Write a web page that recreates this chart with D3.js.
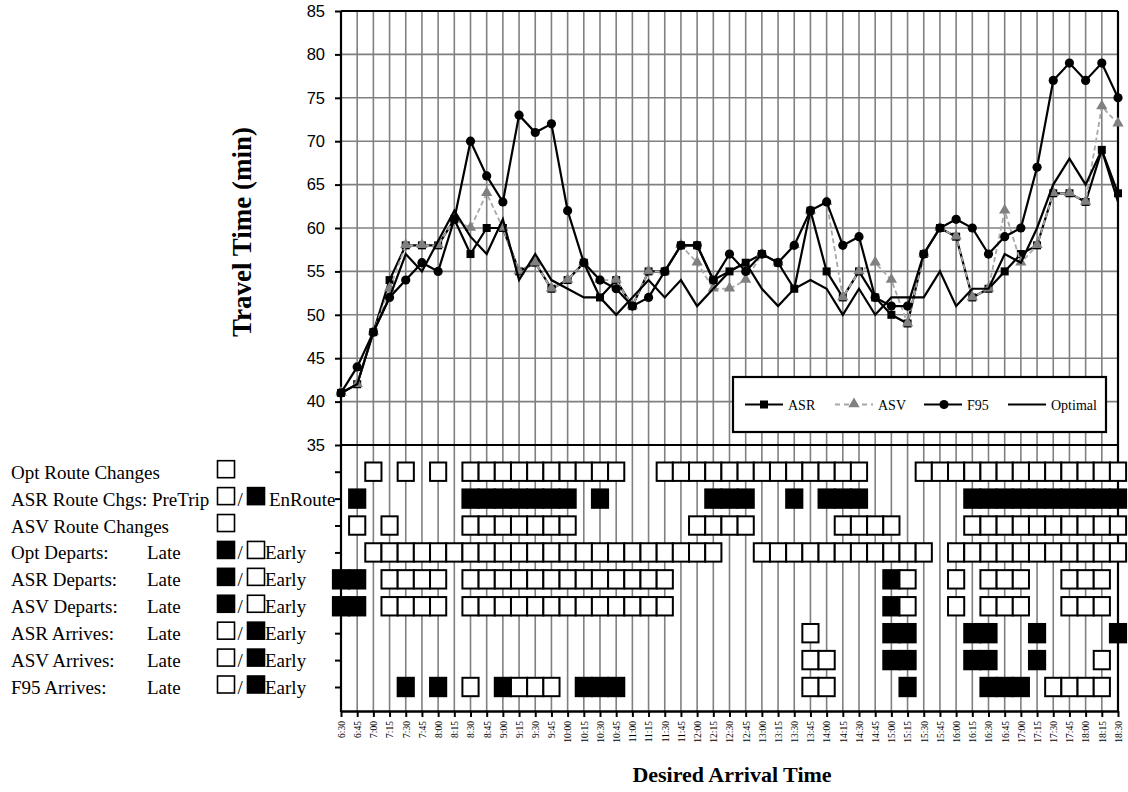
<!DOCTYPE html>
<html><head><meta charset="utf-8">
<script src="https://cdn.jsdelivr.net/npm/d3@7"></script>
<style>body{margin:0;background:#fff}</style>
</head><body>
<svg id="c" width="1128" height="792"></svg>
<script>
// ---------------- data ----------------
const times = ["6:30","6:45","7:00","7:15","7:30","7:45","8:00","8:15","8:30","8:45","9:00","9:15","9:30","9:45",
 "10:00","10:15","10:30","10:45","11:00","11:15","11:30","11:45","12:00","12:15","12:30","12:45",
 "13:00","13:15","13:30","13:45","14:00","14:15","14:30","14:45","15:00","15:15","15:30","15:45",
 "16:00","16:15","16:30","16:45","17:00","17:15","17:30","17:45","18:00","18:15","18:30"];

const asr = [41,42,48,54,58,58,58,61,57,60,60,55,56,53,54,56,52,54,51,55,55,58,58,54,55,56,
             57,56,53,62,55,52,55,52,50,49,57,60,59,52,53,55,57,58,64,64,63,69,64];
const asv = [41,42,48,53,58,58,58,61,60,64,60,55,56,53,54,56,54,54,51,55,55,58,56,53,53,54,
             57,56,58,62,63,52,55,56,54,49,57,60,59,52,53,62,56,58,64,64,63,74,72];
const f95 = [41,44,48,52,54,56,55,61,70,66,63,73,71,72,62,56,54,53,51,52,55,58,58,54,57,55,
             57,56,58,62,63,58,59,52,51,51,57,60,61,60,57,59,60,67,77,79,77,79,75];
const optimal = [41,42,48,52,57,55,58.5,62,59,57,61,54,57,54,53,52,52,50,52,54,52,54,51,53,55,56,
             53,51,53,54,53,50,53,50,52,52,52,55,51,53,53,57,56,60,65,68,65,69,63];

const yTicks = [35,40,45,50,55,60,65,70,75,80,85];

// event rows: one character per time slot ('.' none, 'W' open box, 'B' filled box)
const optRouteChanges = "..W.W.W." + "WWWWWWWWWW" + ".." + "WWWWWWWWWWWWW" + "..." + "WWWWWWWWWWWWW";
const asrRouteChanges = ".B......" + "BBBBBBB" + "." + "B" + "......" + "BBB" + ".." + "B" + "." + "BBB" + "......" + "BBBBBBBBBB";
const asvRouteChanges = ".W.W...." + "WWWWWWW" + "......." + "WWWW" + "....." + "WWWW" + "...." + "WWWWWWWWWW";
const optDeparts = ".." + "WWWWWWWWWWWWWWWWWWWWWW" + ".." + "WWWWWWWWWWW" + "." + "WWWWWWWWWWW";
const asrDeparts = "BB." + "WWWW" + "." + "WWWWWWWWWWWWW" + "............." + "BW" + ".." + "W" + "." + "WWW" + ".." + "WWW" + ".";
const asvDeparts = "BB." + "WWWW" + "." + "WWWWWWWWWWWWW" + "............." + "BW" + ".." + "W" + "." + "WWW" + ".." + "WWW" + ".";
const asrArrives = ".".repeat(29) + "W" + "...." + "BB" + "..." + "BB" + ".." + "B" + "...." + "B";
const asvArrives = ".".repeat(29) + "WW" + "..." + "BB" + "..." + "BB" + ".." + "B" + "..." + "W" + ".";
const f95Arrives = "....B.B.W.B" + "WWW" + "." + "BBB" + "..........." + "WW" + "...." + "B" + "...." + "BBB" + "." + "WWWW" + ".";

const eventRows = [optRouteChanges, asrRouteChanges, asvRouteChanges, optDeparts, asrDeparts,
                   asvDeparts, asrArrives, asvArrives, f95Arrives];
const rowNames = ["Opt Route Changes","ASR Route Chgs: PreTrip","ASV Route Changes","Opt Departs:",
                  "ASR Departs:","ASV Departs:","ASR Arrives:","ASV Arrives:","F95 Arrives:"];
const rowLate = ["","","","Late","Late","Late","Late","Late","Late"];
const rowKeys = [["W"],["W","B"],["W"],["B","W"],["B","W"],["B","W"],["W","B"],["W","B"],["W","B"]];
const rowKeyText = ["","EnRoute","","Early","Early","Early","Early","Early","Early"];

const seriesNames = ["ASR","ASV","F95","Optimal"];

// ---------------- drawing ----------------
eventRows.forEach((r,i)=>{ if (r.length!==times.length) console.warn("row",i,"length",r.length); });

const svg = d3.select("#c");
const X0 = 341, X1 = 1118, YT = 11, YM = 445, YB = 711;
const serif = "'Liberation Serif','Times New Roman',serif";
const sans = "'Liberation Sans',Arial,sans-serif";

const x = d3.scalePoint().domain(times).range([X0, X1]);
const step = x.step();
const y = d3.scaleLinear().domain([35, 85]).range([YM, YT]);
const rowY = d3.scalePoint().domain(d3.range(eventRows.length)).range([471.7, 687]);

const grid = svg.append("g");
grid.selectAll("line.v").data(times.slice(1, -1)).join("line").attr("class","v")
  .attr("x1", d => x(d)).attr("x2", d => x(d)).attr("y1", YT).attr("y2", YB)
  .attr("stroke", "#808080").attr("stroke-width", 1.6);
grid.selectAll("line.h").data(yTicks.filter(v => v > 35 && v < 85)).join("line").attr("class","h")
  .attr("x1", X0).attr("x2", X1).attr("y1", d => y(d)).attr("y2", d => y(d))
  .attr("stroke", "#808080").attr("stroke-width", 1.6);

// frame
const frame = svg.append("g").attr("stroke", "#000").attr("stroke-width", 2.2);
frame.append("line").attr("x1", X0).attr("x2", X1).attr("y1", YT).attr("y2", YT);
frame.append("line").attr("x1", X1).attr("x2", X1).attr("y1", YT).attr("y2", YB);
frame.append("line").attr("x1", X0).attr("x2", X1).attr("y1", YM).attr("y2", YM);
frame.append("line").attr("x1", X0).attr("x2", X0).attr("y1", YT).attr("y2", YB + 1);

// y axis (top panel)
const ya = svg.append("g").attr("transform", `translate(${X0},0)`)
  .call(d3.axisLeft(y).tickValues(yTicks).tickSize(6).tickPadding(10).tickSizeOuter(0));
ya.select(".domain").remove();
ya.selectAll("line").attr("stroke", "#000").attr("stroke-width", 2);
ya.selectAll("text").attr("font-family", sans).attr("font-size", 16.5).attr("fill", "#000");

// row ticks (bottom panel)
const ra = svg.append("g").attr("transform", `translate(${X0},0)`)
  .call(d3.axisLeft(rowY).tickSize(6).tickFormat("").tickSizeOuter(0));
ra.select(".domain").remove();
ra.selectAll("line").attr("stroke", "#000").attr("stroke-width", 2);

// x axis
const xa = svg.append("g").attr("transform", `translate(0,${YB})`)
  .call(d3.axisBottom(x).tickSize(6).tickSizeOuter(0));
xa.select(".domain").attr("stroke", "#000").attr("stroke-width", 2.4);
xa.selectAll("line").attr("stroke", "#000").attr("stroke-width", 2);
xa.selectAll("text").attr("font-family", serif).attr("font-size", 9.5).attr("fill", "#000")
  .attr("transform", "rotate(-90)").attr("x", -10).attr("y", 0).attr("dy", "0.35em")
  .style("text-anchor", "end");

// event boxes
const cells = [];
eventRows.forEach((r, ri) => r.split("").forEach((c, i) => { if (c !== ".") cells.push({ ri, t: times[i], c }); }));
svg.append("g").selectAll("rect").data(cells).join("rect")
  .attr("x", d => x(d.t) - step / 2).attr("y", d => rowY(d.ri) - 9.2)
  .attr("width", step).attr("height", 18.4)
  .attr("fill", d => d.c === "B" ? "#000" : "#fff")
  .attr("stroke", "#000").attr("stroke-width", 2);

// series lines
const line = d3.line().x((d, i) => x(times[i])).y(d => y(d));
const plot = svg.append("g");
plot.append("path").datum(asr).attr("d", line).attr("fill", "none").attr("stroke", "#000").attr("stroke-width", 2.2);
plot.append("g").selectAll("rect").data(asr).join("rect")
  .attr("x", (d, i) => x(times[i]) - 4).attr("y", d => y(d) - 4).attr("width", 8).attr("height", 8).attr("fill", "#000");

plot.append("path").datum(asv).attr("d", line).attr("fill", "none").attr("stroke", "#a8a8a8")
  .attr("stroke-width", 1.8).attr("stroke-dasharray", "5,3");
const tri = d3.symbol().type(d3.symbolTriangle).size(55);
plot.append("g").selectAll("path").data(asv).join("path")
  .attr("d", tri).attr("transform", (d, i) => `translate(${x(times[i])},${y(d) - 0.5})`).attr("fill", "#808080");

plot.append("path").datum(f95).attr("d", line).attr("fill", "none").attr("stroke", "#000").attr("stroke-width", 2.2);
plot.append("g").selectAll("circle").data(f95).join("circle")
  .attr("cx", (d, i) => x(times[i])).attr("cy", d => y(d)).attr("r", 4.6).attr("fill", "#000");

plot.append("path").datum(optimal).attr("d", line).attr("fill", "none").attr("stroke", "#000").attr("stroke-width", 2.2);

// legend
const lg = svg.append("g");
lg.append("rect").attr("x", 733).attr("y", 377).attr("width", 373).attr("height", 55)
  .attr("fill", "#fff").attr("stroke", "#000").attr("stroke-width", 2.2);
const ly = 404.5;
const legendX = [745, 835, 924, 1008];
seriesNames.forEach((name, k) => {
  const g = lg.append("g").attr("transform", `translate(${legendX[k]},${ly})`);
  if (k === 1) {
    g.append("line").attr("x1", 0).attr("x2", 38).attr("stroke", "#a8a8a8").attr("stroke-width", 1.8).attr("stroke-dasharray", "5,4");
    g.append("path").attr("d", tri).attr("transform", "translate(19,-0.5)").attr("fill", "#808080");
  } else {
    g.append("line").attr("x1", 0).attr("x2", 38).attr("stroke", "#000").attr("stroke-width", 2.2);
    if (k === 0) g.append("rect").attr("x", 15).attr("y", -4).attr("width", 8).attr("height", 8).attr("fill", "#000");
    if (k === 2) g.append("circle").attr("cx", 20).attr("r", 4.6).attr("fill", "#000");
  }
  g.append("text").attr("x", 43).attr("y", 5).attr("font-family", serif).attr("font-size", 14).text(name);
});

// left row labels
const lab = svg.append("g").attr("font-family", serif).attr("font-size", 19).attr("fill", "#000");
rowNames.forEach((name, r) => {
  const cy = rowY(r);
  lab.append("text").attr("x", 11).attr("y", cy + 7).text(name);
  if (rowLate[r]) lab.append("text").attr("x", 147).attr("y", cy + 7).text(rowLate[r]);
  const keys = rowKeys[r];
  keys.forEach((k, j) => {
    lab.append("rect").attr("x", j === 0 ? 217.5 : 247.5).attr("y", cy - 11).attr("width", 17).attr("height", 17)
      .attr("fill", k === "B" ? "#000" : "#fff").attr("stroke", "#000").attr("stroke-width", 1.6);
  });
  if (keys.length > 1) lab.append("text").attr("x", 237.5).attr("y", cy + 7).text("/");
  if (rowKeyText[r]) lab.append("text").attr("x", r === 1 ? 269 : 265).attr("y", cy + 7).text(rowKeyText[r]);
});

// titles
svg.append("text").attr("transform", "translate(251,232) rotate(-90)").attr("text-anchor", "middle")
  .attr("font-family", serif).attr("font-weight", "bold").attr("font-size", 27).text("Travel Time (min)");
svg.append("text").attr("x", 732).attr("y", 782).attr("text-anchor", "middle")
  .attr("font-family", serif).attr("font-weight", "bold").attr("font-size", 22).text("Desired Arrival Time");
</script>
</body></html>
